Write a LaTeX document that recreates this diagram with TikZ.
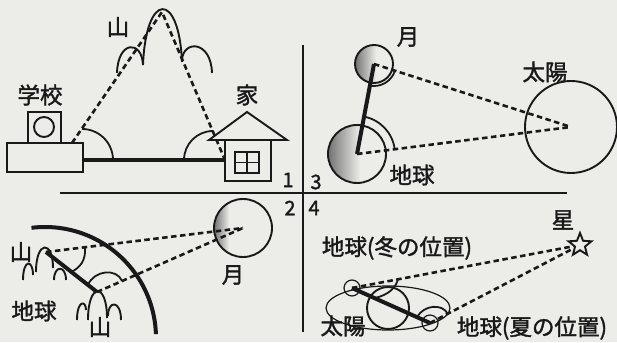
\documentclass[tikz,border=0pt]{standalone}
\usepackage{fontspec}
\newfontfamily\jpfont{Noto Sans CJK JP}[FakeBold=1.6]
\usetikzlibrary{shapes.geometric}

\definecolor{paper}{RGB}{236,236,233}
\definecolor{ink}{RGB}{25,25,25}

\tikzset{
  outline/.style={ink, line width=1.9pt},
  thinline/.style={ink, line width=1.2pt},
  bar/.style={ink, line width=4pt},
  sight/.style={ink, line width=2.6pt, dash pattern=on 5.5pt off 3.5pt},
  anglearc/.style={ink, line width=1.8pt},
  lbl/.style={inner sep=0pt, text=ink, font=\jpfont\fontsize{22.5}{22.5}\selectfont},
  num/.style={inner sep=0pt, text=ink, font=\jpfont\fontsize{20}{20}\selectfont},
}

% body lit from the right: x, y, radius, where the dark side ends
\newcommand{\litbody}[4]{%
  \begin{scope}
    \clip (#1,#2) circle (#3);
    \fill[paper] (#1,#2) circle (#3);
    \shade[left color=black!55, right color=paper] (#1-#3,#2-#3) rectangle (#4,#2+#3);
  \end{scope}
  \draw[outline] (#1,#2) circle (#3);
}

\begin{document}
\begin{tikzpicture}[x=1pt, y=1pt]
\useasboundingbox[fill=paper] (0,0) rectangle (617,342);

% quarters
\draw[ink, line width=1.2pt] (303,297) -- (303,10);
\draw[ink, line width=1.2pt] (60,149) -- (567,149);

\node[num] (n1) at (288,162) {1};
\node[num] (n2) at (290,134) {2};
\node[num] (n3) at (316,160) {3};
\node[num] (n4) at (314,134) {4};

% 1: school, house and mountain
\coordinate (summit) at (162,330);
\coordinate (schooltop) at (72,199);
\coordinate (housefoot) at (225,182);

\draw[outline] (117,269) .. controls (118,302) and (142,302) .. (143,277);
\draw[outline] (143,277) .. controls (146,351) and (179,351) .. (182,280);
\draw[outline] (182,282) .. controls (183,302) and (211,302) .. (212,269);

\draw[sight] (schooltop) -- (summit) -- (housefoot);
\draw[anglearc] (113,182) arc[start angle=0, end angle=90, radius=31];
\draw[anglearc] (184,182) arc[start angle=180, end angle=90, radius=29];
\draw[bar] (83,182) -- (housefoot);

\draw[outline, fill=paper] (7,170) rectangle (83,199);
\draw[outline, fill=paper] (28,199) rectangle (61,230);
\draw[outline] (44,215) circle (10);

\draw[outline, fill=paper] (225,161) rectangle (271,202);
\draw[outline, fill=paper] (209,202) -- (247,230) -- (287,202) -- cycle;
\draw[outline] (235,169) rectangle (259,190);
\draw[outline] (247,169) -- (247,190) (235,179.5) -- (259,179.5);

\node[lbl] (school) at (40,247) {学校};
\node[lbl] (house) at (247,247) {家};
\node[lbl] (mount1) at (118,315) {山};

% 3: moon, earth and sun
\coordinate (moon3) at (374,278);
\coordinate (earth3) at (357,188);
\coordinate (sun3) at (571,215);

\litbody{374}{278}{19}{376}
\litbody{357}{188}{29}{360}
\draw[outline] (sun3) circle (46);

\draw[sight] (moon3) -- (sun3);
\draw[sight] (earth3) -- (sun3);
\draw[bar] (earth3) -- (moon3);
\draw[anglearc] (moon3) ++(-17.7:22) arc[start angle=-17.7, end angle=-100.7, radius=22];
\draw[anglearc] (earth3) ++(79.3:38) arc[start angle=79.3, end angle=7.2, radius=38];

\node[lbl] (moonlbl3) at (408,305) {月};
\node[lbl] (sunlbl3) at (545,270) {太陽};
\node[lbl] (earthlbl3) at (412,167) {地球};

% 2: two mountains on the earth looking at the moon
\coordinate (peakA) at (46,90);
\coordinate (peakB) at (97,50);
\coordinate (moon2) at (243,114);

\draw[bar] (45,4) ++(97:111) arc[start angle=97, end angle=2, radius=111];
\litbody{243}{114}{29}{229}

\draw[outline] (23,62) .. controls (23,83) and (33,83) .. (33,67);
\draw[outline] (36,70) .. controls (36,102) and (53,102) .. (53,74);
\draw[outline] (54,62) .. controls (54,77) and (66,77) .. (66,62);
\draw[outline] (77,22) .. controls (77,42) and (86,42) .. (86,32);
\draw[outline] (88,22) .. controls (88,60) and (107,60) .. (107,24);
\draw[outline] (108,26) .. controls (108,42) and (121,42) .. (121,22);

\draw[sight] (peakA) -- (moon2);
\draw[sight] (peakB) -- (moon2);
\draw[bar] (peakA) -- (peakB);
\draw[anglearc] (85,94) .. controls (86,82) and (80,74) .. (71,70);
\draw[anglearc] (88,57) .. controls (94,72) and (117,74) .. (122,61);

\node[lbl] (mountA) at (21,90) {山};
\node[lbl] (mountB) at (100,15) {山};
\node[lbl] (earthlbl2) at (34,31) {地球};
\node[lbl] (moonlbl2) at (233,67) {月};

% 4: earth on both sides of its orbit looking at a star
\coordinate (sun4) at (388,34);
\coordinate (winter) at (352,54);
\coordinate (summer) at (430,19);

\draw[thinline] (sun4) ellipse [x radius=62, y radius=22];
\draw[outline] (sun4) circle (21);
\draw[thinline] (winter) circle (8);
\draw[thinline] (summer) circle (8);
\node[star, star points=5, star point ratio=2.3, minimum size=24pt, inner sep=0pt, draw, outline] (star) at (580,97) {};

\draw[sight] (winter) -- (star);
\draw[sight] (summer) -- (star);
\draw[bar] (winter) -- (summer);
\draw[anglearc] (375,44) .. controls (388,47) and (396,54) .. (398,63);
\draw[anglearc] (417,25) .. controls (424,37) and (442,39) .. (448,28);

\node[lbl] (starlbl) at (563,122) {星};
\node[lbl] (winterlbl) at (397,94) {地球(冬の位置)};
\node[lbl] (sunlbl4) at (343,16) {太陽};
\node[lbl] (summerlbl) at (532,14) {地球(夏の位置)};

\end{tikzpicture}
\end{document}
